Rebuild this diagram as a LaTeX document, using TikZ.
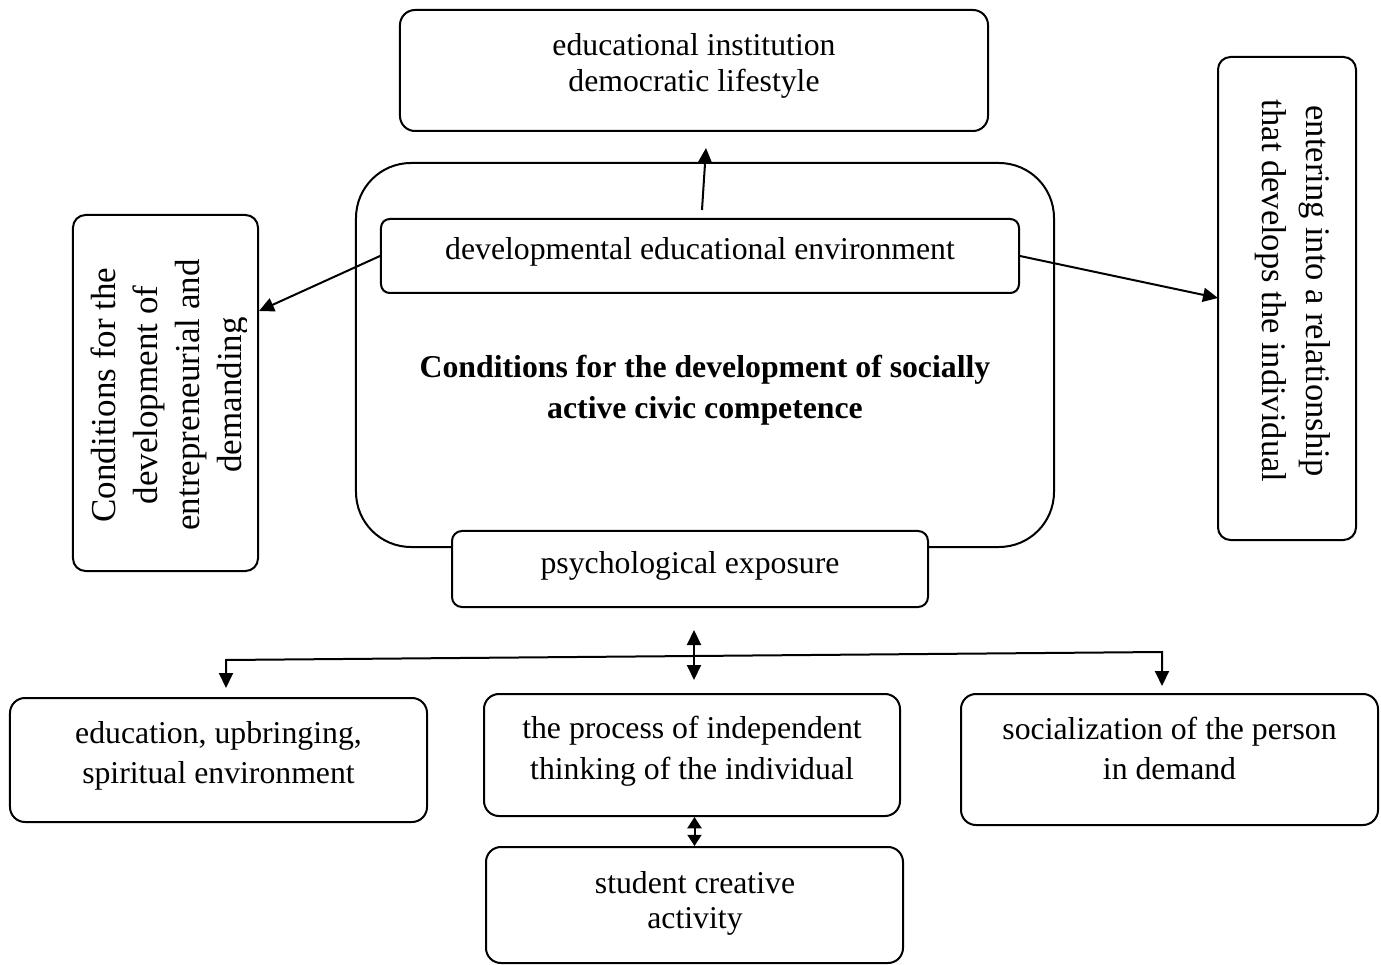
\documentclass[tikz,border=0pt]{standalone}
\usepackage{fontspec}
\setmainfont{Liberation Serif}
\usetikzlibrary{arrows.meta}
\tikzset{box/.style={draw,line width=0.8pt,rounded corners=6pt,inner sep=0pt,fill=white},
         txt/.style={align=center,inner sep=0pt,font=\fontsize{12.7}{16.2}\selectfont},
         arr/.style={line width=0.8pt,-{Triangle[length=6pt,width=5.6pt]}},
         dblarr/.style={line width=0.8pt,{Triangle[length=6pt,width=5.6pt]}-{Triangle[length=6pt,width=5.6pt]}}
}
\begin{document}
\begin{tikzpicture}[x=0.4pt,y=-0.4pt]
  \useasboundingbox (0,0) rectangle (1381,965);
  % top and centre
  \node[box,minimum width=235.2pt,minimum height=48.4pt] (inst) at (694,70.5) {};
  \node[txt,font=\fontsize{12.7}{14.4}\selectfont] (instT) at (694,65.5) {educational institution\\democratic lifestyle};
  \node[box,rounded corners=22pt,minimum width=279.2pt,minimum height=153.6pt] (cond) at (705,355) {};
  \node[txt,font=\bfseries\fontsize{12.7}{16.4}\selectfont] (title) at (705,390) {Conditions for the development of socially\\active civic competence};
  \node[box,rounded corners=3.5pt,minimum width=255.2pt,minimum height=29.6pt] (dev) at (700,256) {};
  \node[txt] (devT) at (700,252) {developmental educational environment};
  \node[box,rounded corners=4pt,minimum width=190.4pt,minimum height=30.4pt] (psych) at (690,569) {};
  \node[txt] (psychT) at (690,566) {psychological exposure};
  % side boxes
  \node[box,rounded corners=5pt,minimum width=74pt,minimum height=142.4pt] (lbox) at (165.5,393) {};
  \begin{scope}
    \clip (lbox.south west) rectangle ([xshift=-5.2pt]lbox.north east);
    \node[txt,rotate=90,font=\fontsize{14}{16.8}\selectfont] (lboxT) at (170,395) {Conditions for the\\development of\\entrepreneurial and\\demanding};
  \end{scope}
  \node[box,rounded corners=5pt,minimum width=55.2pt,minimum height=193.2pt] (rbox) at (1287,298.5) {};
  \node[txt,rotate=-90,font=\fontsize{13.8}{17.4}\selectfont] (rboxT) at (1293,291) {entering into a relationship\\that develops the individual};
  % bottom row
  \node[box,minimum width=166.8pt,minimum height=49.6pt] (edu) at (218.5,760) {};
  \node[txt] (eduT) at (218.5,756) {education, upbringing,\\spiritual environment};
  \node[box,minimum width=166.4pt,minimum height=48.8pt] (think) at (692,755) {};
  \node[txt] (thinkT) at (692,751) {the process of independent\\thinking of the individual};
  \node[box,minimum width=166.8pt,minimum height=52.4pt] (soc) at (1169.5,759.5) {};
  \node[txt] (socT) at (1169.5,748.5) {socialization of the person\\in demand};
  \node[box,minimum width=166.8pt,minimum height=46.4pt] (stud) at (694.5,905) {};
  \node[txt,font=\fontsize{12.7}{14}\selectfont] (studT) at (695,903) {student creative\\activity};
  % arrows
  \coordinate (upfoot) at (702,210);
  \coordinate (uptip) at (706,148);
  \coordinate (ltip) at (259,311);
  \coordinate (rtip) at (1218,298);
  \draw[arr] (upfoot) -- (uptip);
  \draw[arr] (dev.west) -- (ltip);
  \draw[arr] (dev.east) -- (rtip);
  \coordinate (vtop) at (694,630);
  \coordinate (vbot) at (694,680);
  \coordinate (bl) at (226,660);
  \coordinate (br) at (1162,652);
  \coordinate (bltip) at (226,688);
  \coordinate (brtip) at (1162,686);
  \draw[dblarr] (vtop) -- (vbot);
  \draw[dblarr] (bltip) -- (bl) -- (br) -- (brtip);
  \draw[line width=0.8pt,{Triangle[length=4.5pt,width=5.6pt]}-{Triangle[length=4.5pt,width=5.6pt]}] (stud.north |- think.south) -- (stud.north);
\end{tikzpicture}
\end{document}
